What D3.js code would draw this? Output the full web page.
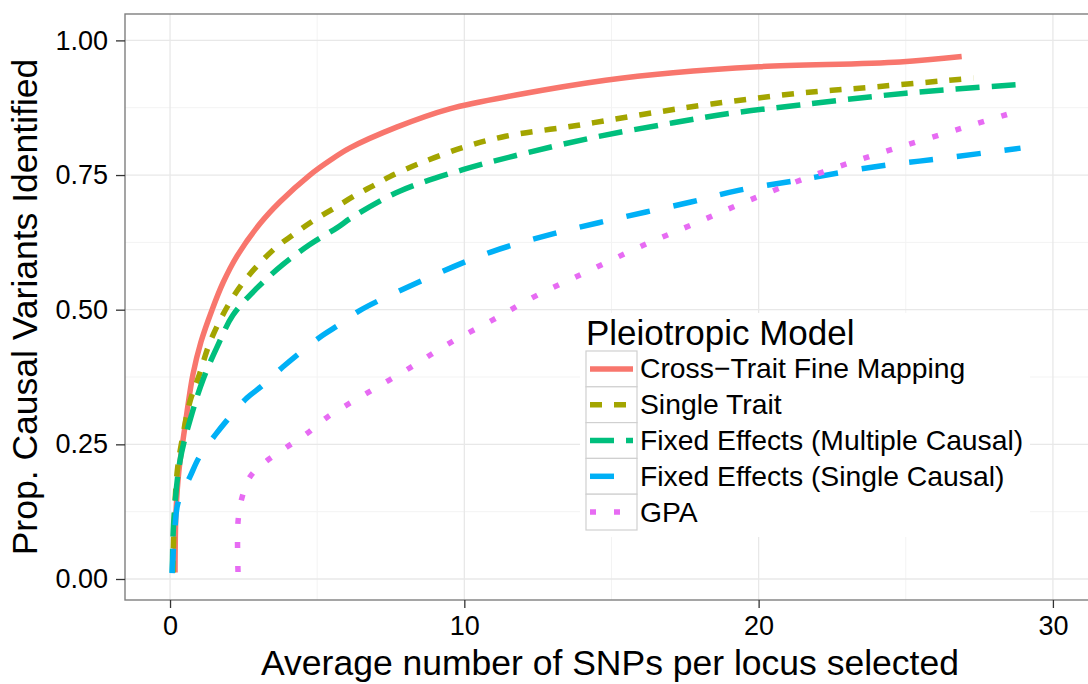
<!DOCTYPE html>
<html>
<head>
<meta charset="utf-8">
<script src="https://cdn.jsdelivr.net/npm/d3@7"></script>
<style>
  html, body { margin: 0; padding: 0; background: #fff; }
  svg { display: block; font-family: 'Liberation Sans', Arial, Helvetica, sans-serif; }
</style>
</head>
<body>
<svg id="chart" width="1088" height="684"></svg>
<script>
// values: [avg SNPs per locus, proportion identified]
const crossTrait = [[0.17, 0.012], [0.2, 0.12], [0.3, 0.2], [0.5, 0.28], [0.78, 0.38], [1.05, 0.44],
  [1.43, 0.5], [1.8, 0.55], [2.28, 0.6], [3.06, 0.66], [3.73, 0.7], [4.75, 0.75], [5.43, 0.777],
  [6.1, 0.8], [7.7, 0.839], [9.5, 0.873], [11.8, 0.899], [14.8, 0.926], [17.1, 0.94], [20, 0.951],
  [24.8, 0.96], [26.9, 0.97]];
const singleTrait = [[0.1, 0.012], [0.12, 0.07], [0.24, 0.197], [0.45, 0.27], [0.68, 0.33], [1.0, 0.38],
  [1.36, 0.44], [1.94, 0.505], [2.48, 0.55], [3.06, 0.587], [3.63, 0.617], [4.18, 0.639], [4.75, 0.661],
  [5.53, 0.687], [6.35, 0.714], [6.9, 0.73], [7.47, 0.747], [8.5, 0.772], [9.95, 0.801], [11.4, 0.822],
  [13.7, 0.841], [16.0, 0.862], [18.4, 0.882], [21.4, 0.902], [23.8, 0.913], [27.3, 0.93]];
const fixedMultiple = [[0.08, 0.012], [0.12, 0.1], [0.34, 0.22], [0.75, 0.308], [1.12, 0.37], [1.6, 0.431],
  [2.14, 0.49], [2.95, 0.54], [3.84, 0.584], [4.75, 0.621], [5.67, 0.652], [6.2, 0.672], [7.8, 0.72],
  [9.95, 0.76], [12.1, 0.791], [14.5, 0.821], [17.1, 0.847], [19.1, 0.865], [21.4, 0.88], [25.0, 0.902],
  [29.1, 0.919]];
const fixedSingle = [[0.07, 0.011], [0.12, 0.06], [0.17, 0.097], [0.27, 0.141], [0.68, 0.19], [1.0, 0.227],
  [1.53, 0.267], [1.94, 0.295], [2.61, 0.336], [3.16, 0.36], [3.84, 0.394], [4.41, 0.42], [5.2, 0.453],
  [5.77, 0.473], [6.4, 0.497], [8.6, 0.555], [10.9, 0.607], [13.1, 0.642], [15.4, 0.672], [17.7, 0.7],
  [19.35, 0.722], [21.4, 0.741], [23.9, 0.765], [26.4, 0.782], [28.9, 0.8]];
const gpa = [[2.31, 0.013], [2.31, 0.106], [2.44, 0.15], [2.72, 0.19], [3.3, 0.22], [3.97, 0.245],
  [4.65, 0.27], [5.33, 0.3], [6.69, 0.345], [8.15, 0.392], [9.5, 0.438], [10.97, 0.481], [12.3, 0.522],
  [13.8, 0.561], [16.1, 0.62], [17.7, 0.657], [19.9, 0.708], [22.2, 0.756], [24.5, 0.797], [26.9, 0.837],
  [28.9, 0.87]];

const seriesNames = ['Cross\u2212Trait Fine Mapping', 'Single Trait', 'Fixed Effects (Multiple Causal)',
  'Fixed Effects (Single Causal)', 'GPA'];
const seriesValues = [crossTrait, singleTrait, fixedMultiple, fixedSingle, gpa];

const xTicks = [0, 10, 20, 30];
const xMinor = [5, 15, 25];
const yTicks = [0, 0.25, 0.5, 0.75, 1];
const yMinor = [0.125, 0.375, 0.625, 0.875];

const colors = ['#F8766D', '#A3A500', '#00BF7D', '#00B0F6', '#E76BF3'];
const dashes = ['none', '12,12', '24,12', '24,24', '6,18'];

const panel = { left: 125, right: 1100, top: 14, bottom: 600 };

const x = d3.scaleLinear().domain([-1.53, 31.6]).range([panel.left, panel.right]);
const y = d3.scaleLinear().domain([-0.039, 1.049]).range([panel.bottom, panel.top]);

const svg = d3.select('#chart');

// grid
const grid = svg.append('g');
grid.selectAll('.xminor').data(xMinor).join('line')
  .attr('x1', (d) => x(d)).attr('x2', (d) => x(d))
  .attr('y1', panel.top).attr('y2', panel.bottom)
  .attr('stroke', '#f3f3f3').attr('stroke-width', 1);
grid.selectAll('.yminor').data(yMinor).join('line')
  .attr('x1', panel.left).attr('x2', panel.right)
  .attr('y1', (d) => y(d)).attr('y2', (d) => y(d))
  .attr('stroke', '#f3f3f3').attr('stroke-width', 1);

const major = svg.append('g');
major.selectAll('.xmajor').data(xTicks).join('line')
  .attr('x1', (d) => x(d)).attr('x2', (d) => x(d))
  .attr('y1', panel.top).attr('y2', panel.bottom)
  .attr('stroke', '#e8e8e8').attr('stroke-width', 1.3);
major.selectAll('.ymajor').data(yTicks).join('line')
  .attr('x1', panel.left).attr('x2', panel.right)
  .attr('y1', (d) => y(d)).attr('y2', (d) => y(d))
  .attr('stroke', '#e8e8e8').attr('stroke-width', 1.3);

// legend background sits above the grid but below the lines
svg.append('rect')
  .attr('x', 580).attr('y', 313).attr('width', 450).attr('height', 224)
  .attr('fill', '#fff');

// lines
const line = d3.line()
  .x((d) => x(d[0]))
  .y((d) => y(d[1]))
  .curve(d3.curveCatmullRom.alpha(0.5));

svg.append('g')
  .selectAll('path')
  .data(seriesValues)
  .join('path')
  .attr('d', line)
  .attr('fill', 'none')
  .attr('stroke', (_d, i) => colors[i])
  .attr('stroke-width', 5.5)
  .attr('stroke-dasharray', (_d, i) => dashes[i])
  .attr('stroke-linejoin', 'round')
  .attr('stroke-linecap', 'butt');

// panel border
svg.append('rect')
  .attr('x', panel.left).attr('y', panel.top)
  .attr('width', panel.right - panel.left).attr('height', panel.bottom - panel.top)
  .attr('fill', 'none').attr('stroke', '#7f7f7f').attr('stroke-width', 1.4);

// axes
const xAxis = svg.append('g')
  .attr('transform', `translate(0,${panel.bottom})`)
  .call(d3.axisBottom(x).tickValues(xTicks).tickSize(8).tickPadding(10).tickFormat(d3.format('d')));
const yAxis = svg.append('g')
  .attr('transform', `translate(${panel.left},0)`)
  .call(d3.axisLeft(y).tickValues(yTicks).tickSize(9).tickPadding(8).tickFormat(d3.format('.2f')));

[xAxis, yAxis].forEach((ax) => {
  ax.select('.domain').remove();
  ax.selectAll('.tick line').attr('stroke', '#333').attr('stroke-width', 1.3);
  ax.selectAll('.tick text').attr('fill', '#000').attr('font-size', 27)
    .attr('font-family', "'Liberation Sans', Arial, sans-serif");
});
xAxis.selectAll('.tick text').attr('dy', null).attr('y', 35);

// axis titles
svg.append('text')
  .attr('x', 610).attr('y', 675)
  .attr('text-anchor', 'middle').attr('font-size', 35.5)
  .text('Average number of SNPs per locus selected');
svg.append('text')
  .attr('transform', `translate(37,${(panel.top + panel.bottom) / 2}) rotate(-90)`)
  .attr('text-anchor', 'middle').attr('font-size', 35.5)
  .text('Prop. Causal Variants Identified');

// legend
const legend = svg.append('g');
legend.append('text')
  .attr('x', 586).attr('y', 345).attr('font-size', 35)
  .text('Pleiotropic Model');

const rowH = 35.8;
const rows = legend.selectAll('g.row').data(seriesNames).join('g')
  .attr('class', 'row')
  .attr('transform', (_d, i) => `translate(586,${351 + i * rowH})`);
rows.append('rect')
  .attr('width', 51).attr('height', rowH)
  .attr('fill', '#fff').attr('stroke', '#d0d0d0').attr('stroke-width', 1.2);
rows.append('line')
  .attr('x1', 4).attr('x2', 47)
  .attr('y1', rowH / 2).attr('y2', rowH / 2)
  .attr('stroke', (_d, i) => colors[i])
  .attr('stroke-width', 5.5)
  .attr('stroke-dasharray', (_d, i) => dashes[i]);
rows.append('text')
  .attr('x', 54).attr('y', rowH / 2 + 9.5)
  .attr('font-size', 28.3)
  .text((d) => d);
</script>
</body>
</html>
